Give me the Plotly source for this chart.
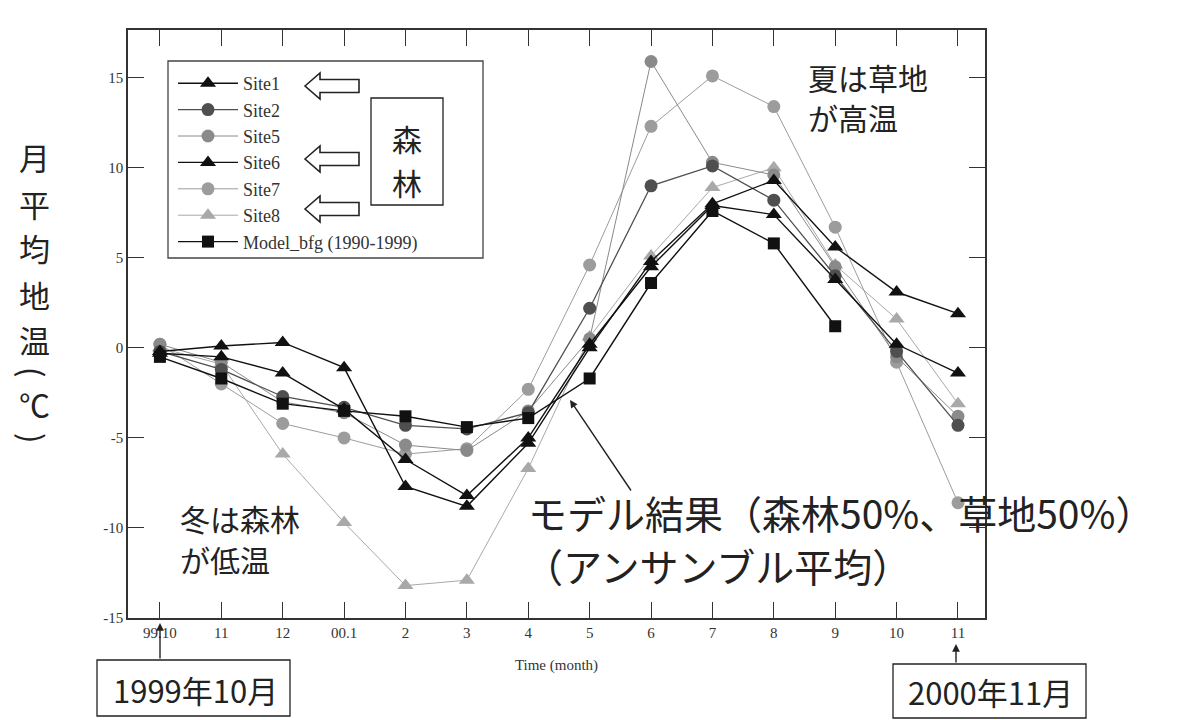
import plotly.graph_objects as go

# Month labels along the x axis (Oct 1999 - Nov 2000)
month_labels = ["99.10", "11", "12", "00.1", "2", "3", "4", "5", "6", "7", "8", "9", "10", "11"]

# Monthly mean soil temperature (deg C) at each site
site1 = [-0.2, 0.1, 0.3, -1.1, -7.7, -8.8, -5.3, 0.0, 4.8, 8.0, 9.3, 5.6, 3.1, 1.9]
site2 = [-0.2, -1.2, -2.7, -3.3, -4.3, -4.5, -3.6, 2.2, 9.0, 10.1, 8.2, 4.0, -0.2, -4.3]
site5 = [0.2, -0.8, -3.0, -3.6, -5.4, -5.7, -3.5, 0.5, 15.9, 10.3, 9.6, 4.5, -0.5, -3.8]
site6 = [-0.3, -0.5, -1.4, -3.4, -6.2, -8.2, -5.0, 0.2, 4.5, 7.9, 7.4, 3.8, 0.2, -1.4]
site7 = [0.2, -2.0, -4.2, -5.0, -5.9, -5.6, -2.3, 4.6, 12.3, 15.1, 13.4, 6.7, -0.8, -8.6]
site8 = [0.0, -0.9, -5.9, -9.7, -13.2, -12.9, -6.7, 0.6, 5.1, 8.9, 10.0, 4.6, 1.6, -3.1]
# Model climatology (1990-1999), Oct - Sep
model = [-0.5, -1.7, -3.1, -3.5, -3.8, -4.4, -3.9, -1.7, 3.6, 7.6, 5.8, 1.2]

W, H = 1185, 720
ML, MR, MT, MB = 128, 200, 30, 102
PW, PH = W - ML - MR, H - MT - MB


def px(x):
    return (x - ML) / PW


def py(y):
    return (H - MB - y) / PH


SERIF = "Liberation Serif, Times New Roman, serif"
CJK = "Noto Sans CJK JP, sans-serif"

fig = go.Figure()

series = [
    # name, values, symbol, colour, size, line width, legend rank
    ("Site8", site8, "triangle-up", "#a9a9a9", 14, 1.0, 6),
    ("Site7", site7, "circle", "#9c9c9c", 13, 1.0, 5),
    ("Site5", site5, "circle", "#8a8a8a", 13, 1.0, 3),
    ("Site2", site2, "circle", "#4f4f4f", 13, 1.3, 2),
    ("Site6", site6, "triangle-up", "#111111", 14, 1.4, 4),
    ("Site1", site1, "triangle-up", "#111111", 14, 1.4, 1),
    ("Model_bfg (1990-1999)", model, "square", "#111111", 12, 1.4, 7),
]

for name, vals, sym, col, size, lw, rank in series:
    fig.add_trace(go.Scatter(
        x=list(range(len(vals))), y=vals, name=name, mode="lines+markers",
        line=dict(color=col, width=lw),
        marker=dict(symbol=sym, color=col, size=size),
        legendrank=rank, legendgroup=name,
    ))

axis_common = dict(
    showline=True, linecolor="#333", linewidth=1.5, mirror="ticks",
    ticks="inside", ticklen=16, tickwidth=1.3, tickcolor="#333",
    showgrid=False, zeroline=False,
    tickfont=dict(family=SERIF, size=15, color="#333"),
)

fig.update_xaxes(
    range=[-0.52, 13.44], tickmode="array",
    tickvals=list(range(len(month_labels))), ticktext=month_labels,
    title=dict(text="Time (month)", font=dict(family=SERIF, size=15, color="#333"), standoff=20),
    **axis_common,
)
fig.update_yaxes(
    range=[-15, 17.65], tickmode="array", tickvals=[-15, -10, -5, 0, 5, 10, 15],
    ticktext=["-15", "-10", "-5", "0", "5", "10", "15"],
    **axis_common,
)

shapes = []
# legend frame
shapes.append(dict(type="rect", xref="paper", yref="paper",
                   x0=px(168), x1=px(483), y0=py(258), y1=py(61),
                   line=dict(color="#444", width=1.3)))
# box around the 森林 label
shapes.append(dict(type="rect", xref="paper", yref="paper",
                   x0=px(371), x1=px(443), y0=py(205), y1=py(98),
                   line=dict(color="#222", width=1.3)))


def hollow_arrow(cy):
    pts = [(305, cy), (320, cy - 13), (320, cy - 6.5), (359, cy - 6.5),
           (359, cy + 6.5), (320, cy + 6.5), (320, cy + 13)]
    path = "M " + " L ".join(f"{px(x):.5f},{py(y):.5f}" for x, y in pts) + " Z"
    return dict(type="path", xref="paper", yref="paper", path=path,
                line=dict(color="#222", width=1.6), fillcolor="white")


for cy in (86, 159, 209):
    shapes.append(hollow_arrow(cy))

# boxes for the date labels
shapes.append(dict(type="rect", xref="paper", yref="paper",
                   x0=px(97), x1=px(290), y0=py(716), y1=py(660),
                   line=dict(color="#222", width=1.3)))
shapes.append(dict(type="rect", xref="paper", yref="paper",
                   x0=px(893), x1=px(1086), y0=py(718), y1=py(664),
                   line=dict(color="#222", width=1.3)))

annotations = []


def label(text, x, y, size, xanchor="left", yanchor="middle", font=CJK, color="#222", angle=0):
    annotations.append(dict(text=text, xref="paper", yref="paper", x=px(x), y=py(y),
                            xanchor=xanchor, yanchor=yanchor, showarrow=False,
                            textangle=angle,
                            font=dict(family=font, size=size, color=color)))


label("森", 407, 138, 30, xanchor="center")
label("林", 407, 182, 30, xanchor="center")

label("夏は草地", 806, 77, 30)
label("が高温", 806, 117, 30)
label("冬は森林", 178, 518, 30)
label("が低温", 178, 559, 30)
label("モデル結果（森林50%、草地50%）", 526, 512, 39)
label("（アンサンブル平均）", 522, 565, 39)
label("1999年10月", 195, 689, 31, xanchor="center")
label("2000年11月", 990, 691, 31, xanchor="center")

# y axis title, one character per row (vertical writing);
# the brackets are turned a quarter turn as in vertical typesetting
ytitle_chars = ["月", "平", "均", "地", "温"]
ytitle_rows = [157, 203, 248, 294, 339]
for ch, row in zip(ytitle_chars, ytitle_rows):
    label(ch, 34, row, 31, xanchor="center")
label("(", 34, 372, 31, xanchor="center", angle=90)
label("℃", 34, 403, 31, xanchor="center")
label(")", 34, 438, 31, xanchor="center", angle=90)


def arrow(x_head, y_head, x_tail, y_tail):
    annotations.append(dict(text="", xref="paper", yref="paper",
                            x=px(x_head), y=py(y_head),
                            ax=x_tail - x_head, ay=y_tail - y_head,
                            showarrow=True, arrowhead=2, arrowsize=1.1,
                            arrowwidth=1.4, arrowcolor="#222"))


arrow(570, 400, 632, 492)
arrow(160, 623, 160, 660)
arrow(956, 644, 956, 664)

fig.update_layout(
    width=W, height=H,
    margin=dict(l=ML, r=MR, t=MT, b=MB),
    paper_bgcolor="white", plot_bgcolor="white",
    showlegend=True,
    legend=dict(x=px(173), y=py(65), xanchor="left", yanchor="top",
                bgcolor="rgba(0,0,0,0)", borderwidth=0, itemwidth=60,
                font=dict(family=SERIF, size=18, color="#333"),
                traceorder="normal"),
    shapes=shapes, annotations=annotations,
)

fig.write_html("out.html")
